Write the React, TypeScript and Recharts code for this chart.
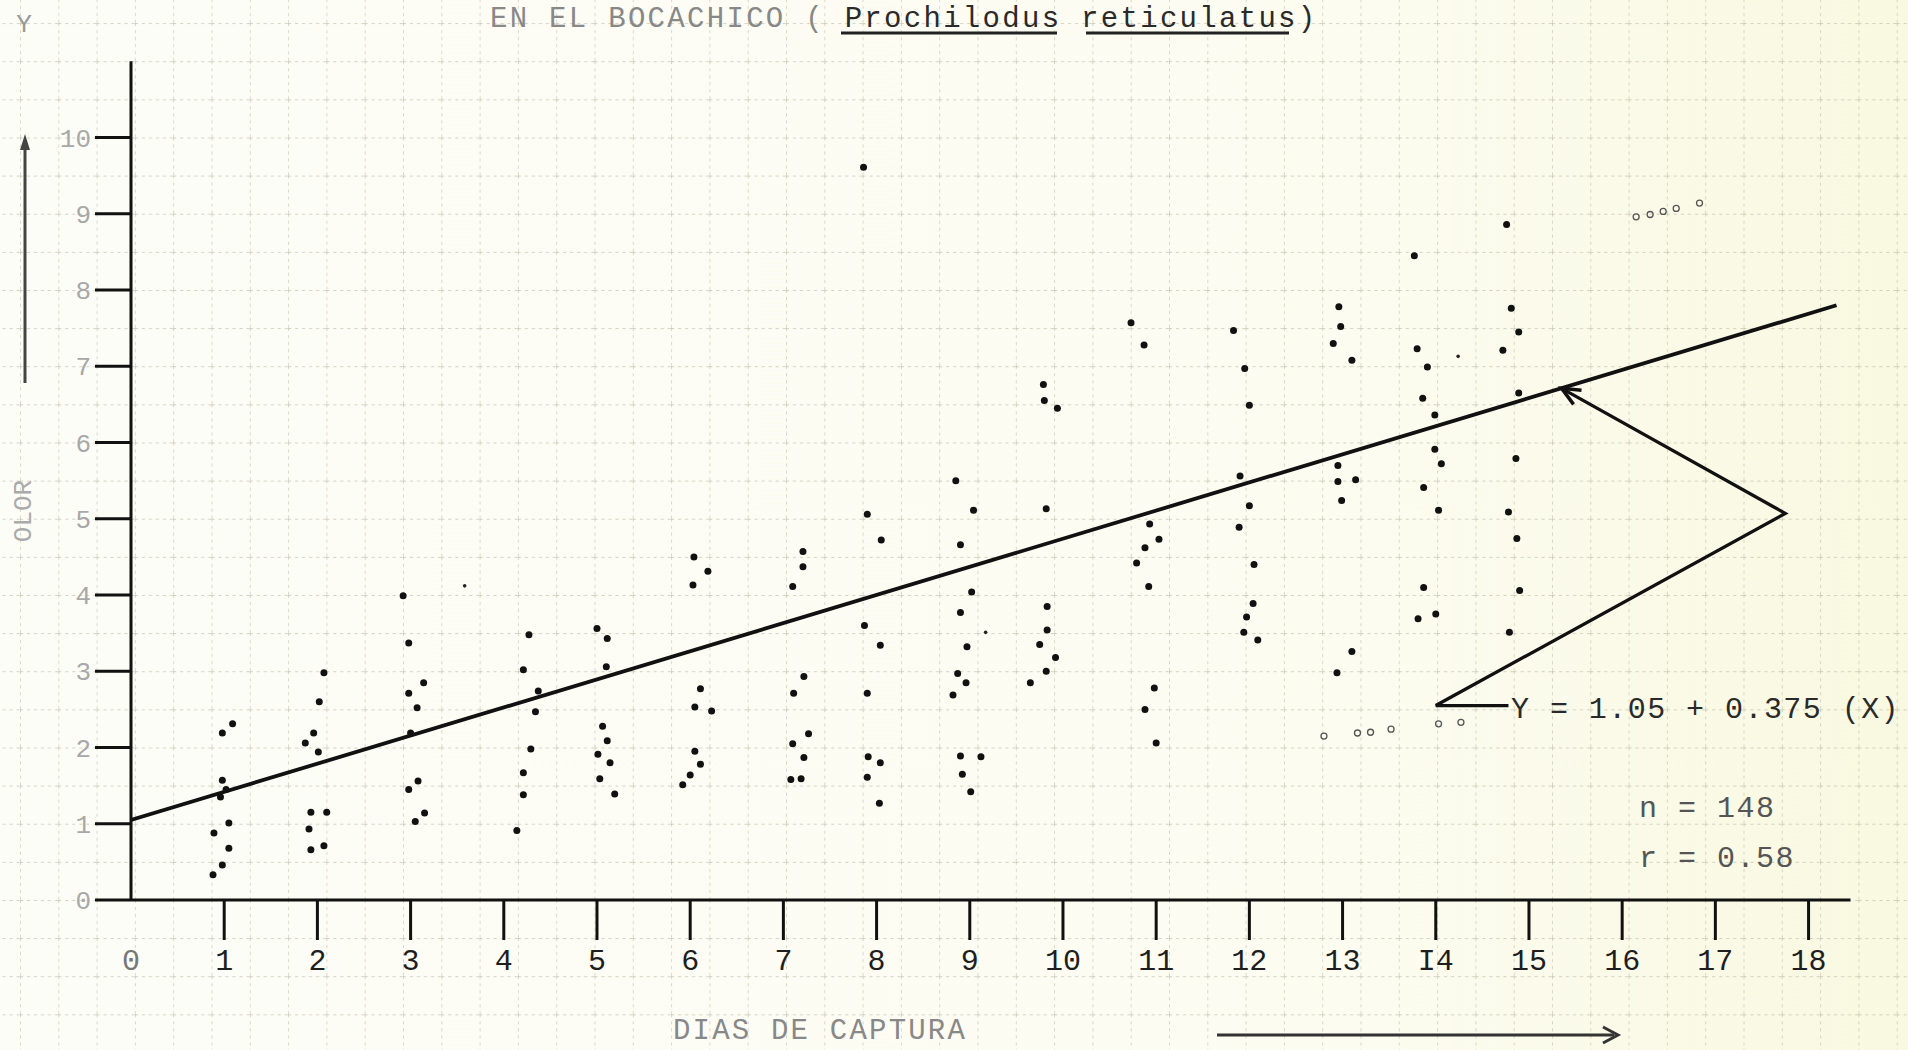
import { ComposedChart, XAxis, YAxis, Scatter, Line, ReferenceDot } from "recharts";

const FONT = '"Liberation Mono", "DejaVu Sans Mono", monospace';

// axis ticks
const xTicks = [0, 1, 2, 3, 4, 5, 6, 7, 8, 9, 10, 11, 12, 13, 14, 15, 16, 17, 18];
const xTickLabels = ["0", "1", "2", "3", "4", "5", "6", "7", "8", "9", "10", "11", "12", "13", "I4", "15", "16", "17", "18"];
const yTicks = [0, 1, 2, 3, 4, 5, 6, 7, 8, 9, 10];

// [dia, olor], one list per capture day
const day1 = [[0.98, 2.19], [1.09, 2.31], [0.98, 1.57], [0.96, 1.35], [1.02, 1.45], [1.05, 1.01], [0.89, 0.88], [1.05, 0.68], [0.98, 0.46], [0.88, 0.33]];
const day2 = [[2.07, 2.98], [2.02, 2.6], [1.96, 2.19], [1.87, 2.06], [2.01, 1.94], [1.93, 1.15], [2.1, 1.15], [1.91, 0.93], [1.93, 0.66], [2.07, 0.71]];
const day3 = [[2.92, 3.99], [2.98, 3.37], [2.98, 2.71], [3.14, 2.85], [3.07, 2.52], [3.0, 2.19], [2.98, 1.45], [3.08, 1.56], [3.05, 1.03], [3.15, 1.14]];
const day4 = [[4.27, 3.48], [4.21, 3.02], [4.37, 2.74], [4.34, 2.47], [4.29, 1.98], [4.21, 1.67], [4.21, 1.38], [4.14, 0.91]];
const day5 = [[5.0, 3.56], [5.11, 3.43], [5.1, 3.06], [5.06, 2.28], [5.11, 2.09], [5.01, 1.91], [5.14, 1.8], [5.03, 1.59], [5.19, 1.39]];
const day6 = [[6.04, 4.5], [6.19, 4.31], [6.03, 4.13], [6.11, 2.77], [6.05, 2.53], [6.23, 2.48], [6.05, 1.95], [6.11, 1.78], [6.0, 1.64], [5.92, 1.51]];
const day7 = [[7.21, 4.57], [7.21, 4.37], [7.1, 4.11], [7.22, 2.93], [7.11, 2.71], [7.27, 2.18], [7.1, 2.05], [7.22, 1.87], [7.08, 1.58], [7.19, 1.59]];
const day8 = [[7.86, 9.61], [7.9, 5.06], [8.05, 4.72], [7.87, 3.6], [8.04, 3.34], [7.9, 2.71], [7.91, 1.88], [8.04, 1.8], [7.9, 1.61], [8.03, 1.27]];
const day9 = [[8.85, 5.5], [9.04, 5.11], [8.9, 4.66], [9.02, 4.04], [8.9, 3.77], [8.97, 3.32], [8.87, 2.97], [8.96, 2.85], [8.82, 2.69], [8.9, 1.89], [9.12, 1.88], [8.92, 1.65], [9.01, 1.42]];
const day10 = [[9.79, 6.76], [9.8, 6.55], [9.94, 6.45], [9.82, 5.13], [9.83, 3.85], [9.83, 3.54], [9.75, 3.35], [9.92, 3.18], [9.82, 3.0], [9.65, 2.85]];
const day11 = [[10.73, 7.57], [10.87, 7.28], [10.93, 4.93], [11.03, 4.73], [10.88, 4.62], [10.79, 4.42], [10.92, 4.11], [10.98, 2.78], [10.88, 2.5], [11.0, 2.06]];
const day12 = [[11.83, 7.47], [11.95, 6.97], [12.0, 6.49], [11.9, 5.56], [12.0, 5.17], [11.89, 4.89], [12.05, 4.4], [12.04, 3.89], [11.97, 3.71], [11.94, 3.51], [12.09, 3.41]];
const day13 = [[12.96, 7.78], [12.98, 7.52], [12.9, 7.3], [13.1, 7.08], [12.95, 5.7], [12.95, 5.49], [13.14, 5.51], [12.99, 5.24], [13.1, 3.26], [12.94, 2.98]];
const day14 = [[13.77, 8.45], [13.8, 7.23], [13.91, 6.99], [13.86, 6.58], [13.99, 6.36], [13.99, 5.91], [14.06, 5.72], [13.87, 5.41], [14.03, 5.11], [13.87, 4.1], [13.81, 3.69], [14.0, 3.75]];
const day15 = [[14.76, 8.86], [14.81, 7.76], [14.89, 7.45], [14.72, 7.21], [14.89, 6.65], [14.86, 5.79], [14.78, 5.09], [14.87, 4.74], [14.9, 4.06], [14.79, 3.51]];

// faint specks and the little open circles
const smallMarks = [[3.58, 4.12], [9.17, 3.51], [14.24, 7.13]];
const openMarks = [[12.8, 2.15], [13.16, 2.19], [13.3, 2.2], [13.52, 2.24], [14.03, 2.31], [14.27, 2.33], [16.15, 8.96], [16.3, 8.99], [16.44, 9.03], [16.58, 9.07], [16.83, 9.14]];

// regression line as drawn, and the pointer from the equation to it
const fitLine = [[0, 1.05], [18.3, 7.8]];
const pointerPath = [[15.35, 6.71], [17.75, 5.07], [14.0, 2.55], [14.78, 2.55]];

const toPts = (arr: number[][]) => arr.map(([dia, olor]) => ({ dia, olor }));

const allDays = [day1, day2, day3, day4, day5, day6, day7, day8, day9, day10, day11, day12, day13, day14, day15];
const dots = toPts(allDays.flat());

// px per unit, used only to orient the arrowhead
const PX_X = 93.2;
const PX_Y = 76.25;

const Dot = (props: any) => <circle cx={props.cx} cy={props.cy} r={3.5} fill="#111" />;
const SmallDot = (props: any) => <circle cx={props.cx} cy={props.cy} r={1.8} fill="#222" />;
const OpenDot = (props: any) => <circle cx={props.cx} cy={props.cy} r={3} fill="none" stroke="#555" strokeWidth={1.3} />;

const ArrowHead = (props: any) => {
    const { cx, cy } = props;
    const [tx, ty] = pointerPath[0];
    const [vx, vy] = pointerPath[1];
    const ang = Math.atan2(-(ty - vy) * PX_Y, (tx - vx) * PX_X) + Math.PI;
    const L = 20;
    const a1 = ang - 0.42;
    const a2 = ang + 0.42;
    return (
        <polyline
            points={`${cx + L * Math.cos(a1)},${cy + L * Math.sin(a1)} ${cx},${cy} ${cx + L * Math.cos(a2)},${cy + L * Math.sin(a2)}`}
            fill="none" stroke="#111" strokeWidth={3.5} />
    );
};

const XTick = (props: any) => {
    const { x, y, payload } = props;
    const v = payload.value;
    return (
        <g>
            {v !== 0 && <line x1={x} x2={x} y1={y - 46} y2={y - 6} stroke="#111" strokeWidth={3} />}
            <text x={x} y={y + 24} textAnchor="middle" fontFamily={FONT} fontSize={30}
                fill={v === 0 ? "#777" : "#1e1e1e"}>{xTickLabels[xTicks.indexOf(v)]}</text>
        </g>
    );
};

const GraphPaper = () => (
    <svg width={1908} height={1050} style={{ position: "absolute", left: 0, top: 0 }}>
        <defs>
            <linearGradient id="paper" x1="0" x2="1" y1="0" y2="0">
                <stop offset="0" stopColor="#fdfdf8" />
                <stop offset="0.7" stopColor="#fcfcf1" />
                <stop offset="1" stopColor="#f9f8e0" />
            </linearGradient>
            <pattern id="grid" width={38.3} height={38.125} x={20} y={23.1} patternUnits="userSpaceOnUse">
                <line x1={0} x2={0} y1={0} y2={38.125} stroke="#aeae98" strokeWidth={1.3} strokeDasharray="3 4" />
                <line x1={0} x2={38.3} y1={0} y2={0} stroke="#aeae98" strokeWidth={1.3} strokeDasharray="3 4" />
            </pattern>
        </defs>
        <rect width={1908} height={1050} fill="url(#paper)" />
        <rect width={1908} height={1050} fill="url(#grid)" opacity={0.75} />
    </svg>
);

const Notes = () => (
    <svg width={1908} height={1050} style={{ position: "absolute", left: 0, top: 0, pointerEvents: "none" }}
        fontFamily={FONT}>
        <text x={490} y={27} fontSize={29} letterSpacing={2.3}>
            <tspan fill="#888">EN EL BOCACHICO ( </tspan>
            <tspan fill="#2a2a2a">Prochilodus reticulatus)</tspan>
        </text>
        <line x1={841} x2={1057} y1={33} y2={33} stroke="#222" strokeWidth={3} />
        <line x1={1086} x2={1289} y1={33} y2={33} stroke="#222" strokeWidth={3} />

        <text x={24} y={32} fontSize={26} fill="#999" textAnchor="middle">Y</text>
        <line x1={25} x2={25} y1={383} y2={145} stroke="#444" strokeWidth={3} />
        <polygon points="25,134 20,150 30,150" fill="#444" />
        <text x={24} y={511} fontSize={26} fill="#aaa" textAnchor="middle" dominantBaseline="middle"
            transform="rotate(-90 24 511)">OLOR</text>

        <text x={673} y={1039} fontSize={29} letterSpacing={2.2} fill="#888">DIAS DE CAPTURA</text>
        <line x1={1217} x2={1614} y1={1035} y2={1035} stroke="#333" strokeWidth={3} />
        <polyline points="1603,1027 1618,1035 1603,1043" fill="none" stroke="#333" strokeWidth={3} />

        <text x={1511} y={718} fontSize={30} letterSpacing={1.45} fill="#2a2a2a">Y = 1.05 + 0.375 (X)</text>
        <text x={1639} y={817} fontSize={30} letterSpacing={1.5} fill="#555">n = 148</text>
        <text x={1639} y={867} fontSize={30} letterSpacing={1.5} fill="#555">r = 0.58</text>
    </svg>
);

export default function App() {
    return (
        <div style={{ position: "fixed", left: 0, top: 0, width: 1908, height: 1050, overflow: "hidden" }}>
            <GraphPaper />
            <div style={{ position: "absolute", left: 0, top: 0 }}>
                <ComposedChart width={1908} height={1050}
                    margin={{ top: 61.25, right: 57.5, bottom: 50, left: 31 }}>
                    <XAxis type="number" dataKey="dia" domain={[0, 18.45]} ticks={xTicks} allowDataOverflow
                        height={100} tickSize={40} tickMargin={6} tickLine={false}
                        axisLine={{ stroke: "#111", strokeWidth: 3 }} tick={<XTick />} interval={0} />
                    <YAxis type="number" dataKey="olor" domain={[0, 11]} ticks={yTicks} allowDataOverflow
                        width={100} tickSize={36} tickMargin={4} interval={0}
                        axisLine={{ stroke: "#111", strokeWidth: 3 }}
                        tickLine={{ stroke: "#111", strokeWidth: 3 }}
                        tick={{ fill: "#a8a8a8", fontSize: 26, fontFamily: FONT }} />
                    <Line data={toPts(fitLine)} dataKey="olor" type="linear" stroke="#111" strokeWidth={3.8}
                        dot={false} activeDot={false} isAnimationActive={false} />
                    <Line data={toPts(pointerPath)} dataKey="olor" type="linear" stroke="#111" strokeWidth={3.3}
                        dot={false} activeDot={false} isAnimationActive={false} />
                    <Scatter data={dots} dataKey="olor" shape={<Dot />} isAnimationActive={false} />
                    <Scatter data={toPts(smallMarks)} dataKey="olor" shape={<SmallDot />} isAnimationActive={false} />
                    <Scatter data={toPts(openMarks)} dataKey="olor" shape={<OpenDot />} isAnimationActive={false} />
                    <ReferenceDot x={pointerPath[0][0]} y={pointerPath[0][1]} shape={<ArrowHead />} />
                </ComposedChart>
            </div>
            <Notes />
        </div>
    );
}
